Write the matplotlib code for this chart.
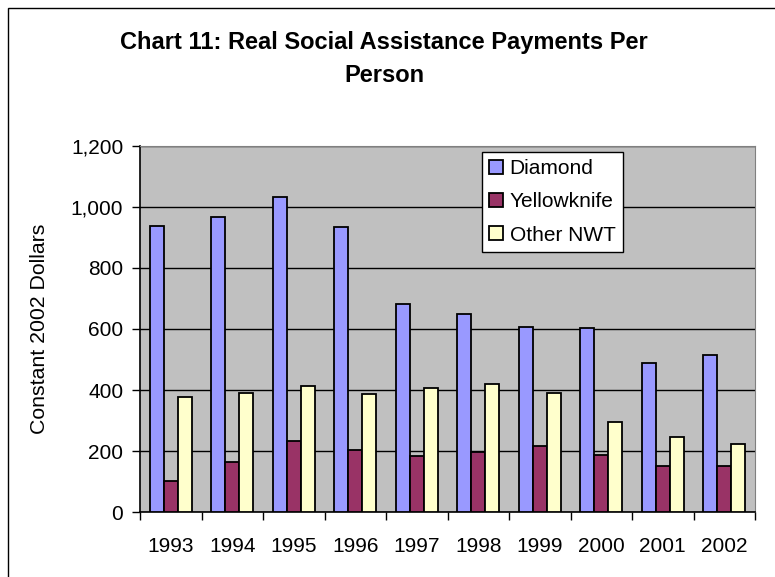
import numpy as np
import matplotlib
matplotlib.use("Agg")
import matplotlib.pyplot as plt
from matplotlib.patches import Rectangle
from matplotlib.ticker import FuncFormatter, FixedLocator

years = ["1993", "1994", "1995", "1996", "1997", "1998", "1999", "2000", "2001", "2002"]
diamond = [938, 966, 1033, 934, 682, 650, 608, 603, 489, 515]
yellowknife = [102, 166, 233, 203, 184, 198, 216, 189, 151, 151]
other_nwt = [376, 391, 413, 387, 408, 419, 392, 297, 248, 225]

series = [("Diamond", diamond, "#9999FF"),
          ("Yellowknife", yellowknife, "#993366"),
          ("Other NWT", other_nwt, "#FFFFCC")]

plt.rcParams["font.family"] = ["Liberation Sans", "DejaVu Sans"]

fig = plt.figure(figsize=(7.75, 5.77), dpi=100)
fig.patches.append(Rectangle((8 / 775, -0.1), 1.2, 1 - 8 / 577 + 0.1,
                             transform=fig.transFigure, fill=False,
                             edgecolor="black", linewidth=1.0))

ax = fig.add_axes([140 / 775, 1 - 512.3 / 577, 615 / 775, (512.3 - 145.7) / 577])
ax.set_facecolor("#C0C0C0")

x = np.arange(len(years))
w = 0.226
for i, (name, vals, col) in enumerate(series):
    ax.bar(x + (i - 1) * w, vals, w, color=col, edgecolor="black",
           linewidth=1.3, label=name, zorder=3)

ax.set_xlim(-0.5, len(years) - 0.5)
ax.set_ylim(0, 1200)
ax.set_yticks(np.arange(0, 1201, 200))
ax.yaxis.set_major_formatter(FuncFormatter(lambda v, p: f"{int(v):,}"))
ax.grid(axis="y", color="black", linewidth=1.0, zorder=1)
ax.set_axisbelow(True)

ax.set_xticks(x)
ax.set_xticklabels(years, fontsize=15)
ax.xaxis.set_minor_locator(FixedLocator(np.arange(-0.5, len(years), 1.0)))
ax.tick_params(axis="x", which="major", length=0, pad=18)
ax.tick_params(axis="x", which="minor", length=6, width=1, direction="out")
ax.tick_params(axis="y", length=6, width=1, direction="out", labelsize=15, pad=6)

for s in ["top", "right"]:
    ax.spines[s].set_color("#808080")
for s in ["left", "bottom"]:
    ax.spines[s].set_color("black")
    ax.spines[s].set_linewidth(1.2)

ax.set_ylabel("Constant 2002 Dollars", fontsize=15.3)
ax.yaxis.set_label_coords((49 - 140) / 615, 0.5)

leg = ax.legend(loc="upper left", bbox_to_anchor=((482 - 140) / 615, 1 - (152 - 145.7) / 366.6),
                fontsize=15, frameon=True, fancybox=False, framealpha=1,
                edgecolor="black", borderpad=0.35, labelspacing=0.68,
                handlelength=0.67, handleheight=0.67, handletextpad=0.3,
                borderaxespad=0)
leg.get_frame().set_linewidth(1.0)

fig.text(384 / 775, 1 - 49.3 / 577, "Chart 11: Real Social Assistance Payments Per",
         ha="center", va="baseline", fontsize=17, fontweight="bold")
fig.text(384 / 775, 1 - 81.7 / 577, "Person",
         ha="center", va="baseline", fontsize=17, fontweight="bold")

fig.savefig("out.png", dpi=100)
